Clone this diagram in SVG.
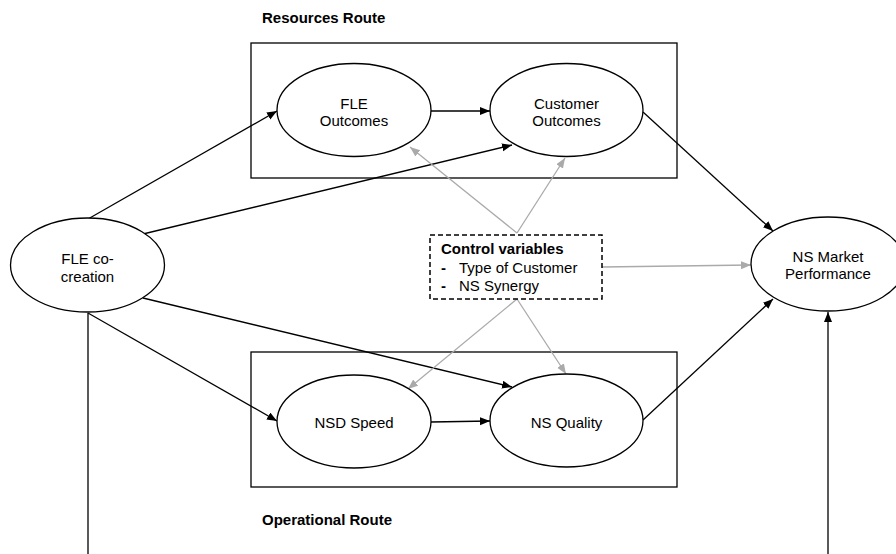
<svg xmlns="http://www.w3.org/2000/svg" width="896" height="554" viewBox="0 0 896 554">
<style>
text{font-family:"Liberation Sans",Arial,sans-serif;font-size:15px;fill:#000}
.t{text-anchor:middle}
.b{font-weight:bold}
.node{fill:#fff;stroke:#000;stroke-width:1.3}
.box{fill:none;stroke:#000;stroke-width:1.3}
.k{stroke:#000;stroke-width:1.3;fill:none}
.g{stroke:#aaa;stroke-width:1.3;fill:none}
</style>
<defs>
<marker id="ak" markerUnits="userSpaceOnUse" markerWidth="11" markerHeight="9" refX="10" refY="4" orient="auto"><path d="M0,0 L10,4 L0,8 z" fill="#000"/></marker>
<marker id="ag" markerUnits="userSpaceOnUse" markerWidth="11" markerHeight="9" refX="10" refY="4" orient="auto"><path d="M0,0 L10,4 L0,8 z" fill="#aaa"/></marker>
</defs>
<g id="groups">
<rect class="box" x="251" y="43" width="426" height="135"/>
<text class="b" x="262" y="23">Resources Route</text>
<rect class="box" x="251" y="352" width="426" height="135"/>
<text class="b" x="262" y="525">Operational Route</text>
</g>
<g id="connectors">
<line class="k" x1="88" y1="219" x2="277" y2="111" marker-end="url(#ak)"/>
<line class="k" x1="143" y1="234" x2="512" y2="145" marker-end="url(#ak)"/>
<line class="k" x1="143" y1="298" x2="512" y2="387" marker-end="url(#ak)"/>
<line class="k" x1="88" y1="313" x2="277" y2="421" marker-end="url(#ak)"/>
<line class="k" x1="88" y1="313" x2="88" y2="554"/>
<line class="k" x1="828" y1="554" x2="828" y2="312" marker-end="url(#ak)"/>
<line class="k" x1="431" y1="111" x2="490" y2="111" marker-end="url(#ak)"/>
<line class="k" x1="431" y1="422" x2="490" y2="421" marker-end="url(#ak)"/>
<line class="k" x1="643" y1="112" x2="773" y2="231" marker-end="url(#ak)"/>
<line class="k" x1="643" y1="420" x2="773" y2="299" marker-end="url(#ak)"/>
<line class="g" x1="517" y1="233" x2="410" y2="147" marker-end="url(#ag)"/>
<line class="g" x1="517" y1="233" x2="565" y2="158" marker-end="url(#ag)"/>
<line class="g" x1="602" y1="267" x2="751" y2="265" marker-end="url(#ag)"/>
<line class="g" x1="517" y1="299" x2="408" y2="389" marker-end="url(#ag)"/>
<line class="g" x1="517" y1="299" x2="566" y2="374" marker-end="url(#ag)"/>
</g>
<g id="fle-cocreation">
<ellipse class="node" cx="87.5" cy="265" rx="77" ry="47"/>
<text class="t" x="87.5" y="264">FLE co-</text>
<text class="t" x="87.5" y="282">creation</text>
</g>
<g id="fle-outcomes">
<ellipse class="node" cx="354" cy="110" rx="77" ry="46.5"/>
<text class="t" x="354" y="109">FLE</text>
<text class="t" x="354" y="126">Outcomes</text>
</g>
<g id="customer-outcomes">
<ellipse class="node" cx="566.5" cy="110" rx="76.5" ry="46.5"/>
<text class="t" x="566.5" y="109">Customer</text>
<text class="t" x="566.5" y="126">Outcomes</text>
</g>
<g id="nsd-speed">
<ellipse class="node" cx="354" cy="421.5" rx="77" ry="46.5"/>
<text class="t" x="354" y="428">NSD Speed</text>
</g>
<g id="ns-quality">
<ellipse class="node" cx="566.5" cy="420.5" rx="76.5" ry="46.5"/>
<text class="t" x="566.5" y="428">NS Quality</text>
</g>
<g id="ns-market">
<ellipse class="node" cx="828" cy="264" rx="77" ry="47"/>
<text class="t" x="828" y="262">NS Market</text>
<text class="t" x="828" y="279">Performance</text>
</g>
<g id="control">
<rect x="430" y="235" width="172" height="64" fill="#fff" stroke="#000" stroke-width="1.5" stroke-dasharray="5,3"/>
<text class="b" x="441" y="254">Control variables</text>
<text class="b" x="441" y="273">-</text>
<text x="459" y="273">Type of Customer</text>
<text class="b" x="441" y="291">-</text>
<text x="459" y="291">NS Synergy</text>
</g>
</svg>
